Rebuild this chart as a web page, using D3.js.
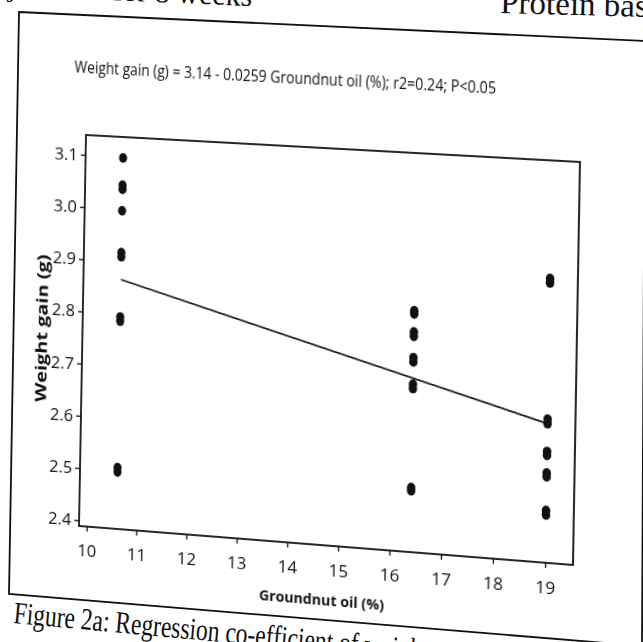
<!DOCTYPE html>
<html>
<head>
<meta charset="utf-8">
<script src="https://cdn.jsdelivr.net/npm/d3@7"></script>
<style>
	html, body { margin: 0; padding: 0; background: #fff; }
	#page { position: relative; width: 643px; height: 642px; overflow: hidden; background: #fff; }
	#paper { position: absolute; left: 0; top: 0; }
	#chart { position: absolute; left: 0; top: 0; width: 643px; height: 642px; transform-origin: 0 0; }
	.tick text { font-family: "Open Sans", sans-serif; fill: #111; }
</style>
</head>
<body>
<div id="page">
	<svg id="paper" width="643" height="642"></svg>
	<div id="chart"></div>
</div>
<script>
// groundnut oil levels (%) and weight gain (g)
var oilLevels = [10.6, 16.4, 19.0];
var gainAt106 = [3.098, 3.046, 3.038, 2.997, 2.917, 2.909, 2.794, 2.786, 2.506, 2.498];
var gainAt164 = [2.842, 2.836, 2.802, 2.794, 2.754, 2.746, 2.704, 2.696, 2.510, 2.504];
var gainAt190 = [2.918, 2.910, 2.656, 2.648, 2.596, 2.589, 2.556, 2.549, 2.486, 2.478];
var fitCoef = [3.14, -0.0259];   // intercept, slope
var xTicks = [10, 11, 12, 13, 14, 15, 16, 17, 18, 19];
var yTicks = [2.4, 2.5, 2.6, 2.7, 2.8, 2.9, 3.0, 3.1];
var equationText = "Weight gain (g) = 3.14 - 0.0259 Groundnut oil (%); r2=0.24; P<0.05";

var points = [];
[gainAt106, gainAt164, gainAt190].forEach(function(series, i) {
	series.forEach(function(v) { points.push({ x: oilLevels[i], y: v }); });
});

var plot = { left: 86, right: 580, top: 135, bottom: 526 };

// the printed page was photographed at an angle: map the flat plot box onto the photo
function homography(src, dst) {
	var A = [], b = [];
	for (var i = 0; i < 4; i++) {
		var x = src[i][0], y = src[i][1], u = dst[i][0], v = dst[i][1];
		A.push([x, y, 1, 0, 0, 0, -u * x, -u * y]); b.push(u);
		A.push([0, 0, 0, x, y, 1, -v * x, -v * y]); b.push(v);
	}
	var n = 8;
	for (var c = 0; c < n; c++) {
		var p = c;
		for (var r = c + 1; r < n; r++) if (Math.abs(A[r][c]) > Math.abs(A[p][c])) p = r;
		var t = A[c]; A[c] = A[p]; A[p] = t;
		t = b[c]; b[c] = b[p]; b[p] = t;
		for (var r2 = c + 1; r2 < n; r2++) {
			var f = A[r2][c] / A[c][c];
			for (var k = c; k < n; k++) A[r2][k] -= f * A[c][k];
			b[r2] -= f * b[c];
		}
	}
	var h = new Array(n);
	for (var r3 = n - 1; r3 >= 0; r3--) {
		var s = b[r3];
		for (var k2 = r3 + 1; k2 < n; k2++) s -= A[r3][k2] * h[k2];
		h[r3] = s / A[r3][r3];
	}
	return h;
}

var h = homography(
	[[plot.left, plot.top], [plot.right, plot.top], [plot.right, plot.bottom], [plot.left, plot.bottom]],
	[[86, 135], [580, 162], [573, 565], [79, 526]]
);
d3.select("#chart").style("transform",
	"matrix3d(" + [h[0], h[3], 0, h[6], h[1], h[4], 0, h[7], 0, 0, 1, 0, h[2], h[5], 0, 1].join(",") + ")");

// ---- paper layer (outer frame and surrounding page text)
var paper = d3.select("#paper");

paper.append("polygon")
	.attr("points", "19,12 645,41 642,646 9,594")
	.attr("fill", "none")
	.attr("stroke", "#111")
	.attr("stroke-width", 1.8);

paper.append("text")
	.attr("transform", "translate(252,6) rotate(2.4)")
	.attr("text-anchor", "end")
	.style("font-family", "'Liberation Serif', serif")
	.style("font-size", "30px")
	.attr("fill", "#111")
	.text("juvenile for 8 weeks");

paper.append("text")
	.attr("transform", "translate(500,13) rotate(1.5)")
	.style("font-family", "'Liberation Serif', serif")
	.style("font-size", "33px")
	.attr("fill", "#111")
	.text("Protein based");

paper.append("text")
	.attr("transform", "translate(13,623) rotate(5.2) scale(0.76,1)")
	.style("font-family", "'Liberation Serif', serif")
	.style("font-size", "31px")
	.attr("fill", "#111")
	.text("Figure 2a: Regression co-efficient of weight gain");

// ---- chart layer (flat, warped by the matrix above)
var svg = d3.select("#chart").append("svg")
	.attr("width", 643)
	.attr("height", 642)
	.style("overflow", "visible");

var x = d3.scaleLinear().domain([9.845, 19.53]).range([plot.left, plot.right]);
var y = d3.scaleLinear().domain([2.389, 3.138]).range([plot.bottom, plot.top]);

svg.append("text")
	.attr("x", 73)
	.attr("y", 73)
	.attr("textLength", 424)
	.attr("lengthAdjust", "spacingAndGlyphs")
	.style("font-family", "'Open Sans', sans-serif")
	.style("font-size", "16px")
	.attr("fill", "#111")
	.text(equationText);

var xAxis = svg.append("g")
	.attr("transform", "translate(0," + plot.bottom + ")")
	.call(d3.axisBottom(x).tickValues(xTicks).tickSize(5).tickPadding(13));
xAxis.select(".domain").remove();
xAxis.selectAll(".tick text").style("font-size", "17px");

var yAxis = svg.append("g")
	.attr("transform", "translate(" + plot.left + ",0)")
	.call(d3.axisLeft(y).tickValues(yTicks).tickSize(5).tickPadding(3).tickFormat(d3.format(".1f")));
yAxis.select(".domain").remove();
yAxis.selectAll(".tick text").style("font-size", "17px");
svg.selectAll(".tick line").attr("stroke", "#111").attr("stroke-width", 1.3);

svg.append("rect")
	.attr("x", plot.left)
	.attr("y", plot.top)
	.attr("width", plot.right - plot.left)
	.attr("height", plot.bottom - plot.top)
	.attr("fill", "none")
	.attr("stroke", "#111")
	.attr("stroke-width", 1.8);

svg.append("text")
	.attr("transform", "translate(44,331) rotate(-90)")
	.attr("text-anchor", "middle")
	.attr("dy", "0.35em")
	.attr("textLength", 148)
	.attr("lengthAdjust", "spacingAndGlyphs")
	.style("font-family", "'Open Sans', sans-serif")
	.style("font-weight", "bold")
	.style("font-size", "16px")
	.attr("fill", "#111")
	.text("Weight gain (g)");

svg.append("text")
	.attr("x", (plot.left + plot.right) / 2)
	.attr("y", 585)
	.attr("text-anchor", "middle")
	.attr("textLength", 125)
	.attr("lengthAdjust", "spacingAndGlyphs")
	.style("font-family", "'Open Sans', sans-serif")
	.style("font-weight", "bold")
	.style("font-size", "15px")
	.attr("fill", "#111")
	.text("Groundnut oil (%)");

var fitX = d3.extent(oilLevels);
svg.append("line")
	.attr("x1", x(fitX[0]))
	.attr("y1", y(fitCoef[0] + fitCoef[1] * fitX[0]))
	.attr("x2", x(fitX[1]))
	.attr("y2", y(fitCoef[0] + fitCoef[1] * fitX[1]))
	.attr("stroke", "#111")
	.attr("stroke-width", 1.7);

svg.append("g").selectAll("ellipse")
	.data(points)
	.enter().append("ellipse")
	.attr("cx", function(d) { return x(d.x); })
	.attr("cy", function(d) { return y(d.y); })
	.attr("rx", 4.2)
	.attr("ry", 4.8)
	.attr("fill", "#111");
</script>
</body>
</html>
